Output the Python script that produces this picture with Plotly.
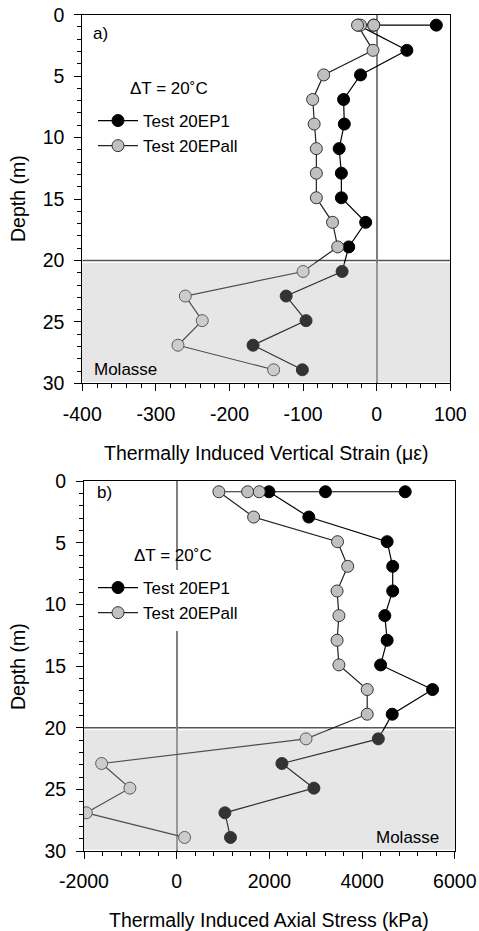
import plotly.graph_objects as go

# All placements below are given in window pixels (figure fills the window).
W, H = 479, 931

# ---------------- data ----------------
depth = [0.85, 0.85, 0.85, 2.9, 4.9, 6.9, 8.9, 10.9, 12.9, 14.9, 16.9, 18.9,
         20.9, 22.9, 24.9, 26.9, 28.9]
strain_ep1 = [81, -4, -25, 41, -22, -45, -44, -51, -48, -48, -15, -38,
              -47, -123, -96, -168, -101]
strain_epall = [-4, -22, -26, -5, -72, -87, -85, -82, -82, -82, -60, -53,
                -100, -260, -237, -270, -140]
stress_ep1 = [4930, 3210, 1990, 2850, 4540, 4660, 4660, 4490, 4540, 4400,
              5520, 4650, 4350, 2270, 2960, 1040, 1160]
stress_epall = [1780, 1530, 910, 1660, 3470, 3690, 3460, 3500, 3460, 3500,
                4110, 4110, 2790, -1620, -1010, -1950, 170]

series_names = ["Test 20EP1", "Test 20EPall"]
strain_ticks = [-400, -300, -200, -100, 0, 100]
stress_ticks = [-2000, 0, 2000, 4000, 6000]
depth_ticks = [0, 5, 10, 15, 20, 25, 30]
molasse_top, molasse_bottom = 20, 30

FONT = "Arial, Liberation Sans, sans-serif"


def px(x):
    return x / W


def py(y):
    return 1 - y / H


def labels(vals):
    return [str(v) for v in vals]   # plain hyphen minus, as in the reference


fig = go.Figure()

black_style = dict(mode="lines+markers",
                   line=dict(color="black", width=1.2),
                   marker=dict(size=12, color="black",
                               line=dict(color="black", width=1)))
grey_style = dict(mode="lines+markers",
                  line=dict(color="#222222", width=1.2),
                  marker=dict(size=12, color="#c0c0c0",
                              line=dict(color="#333333", width=1)))

fig.add_trace(go.Scatter(x=strain_ep1, y=depth, name=series_names[0],
                         xaxis="x", yaxis="y", legend="legend", **black_style))
fig.add_trace(go.Scatter(x=strain_epall, y=depth, name=series_names[1],
                         xaxis="x", yaxis="y", legend="legend", **grey_style))
fig.add_trace(go.Scatter(x=stress_ep1, y=depth, name=series_names[0],
                         xaxis="x2", yaxis="y2", legend="legend2", **black_style))
fig.add_trace(go.Scatter(x=stress_epall, y=depth, name=series_names[1],
                         xaxis="x2", yaxis="y2", legend="legend2", **grey_style))

axis_common = dict(showgrid=False, showline=True, mirror=True,
                   automargin=False,
                   linecolor="black", linewidth=1, ticks="outside",
                   ticklen=7, tickwidth=1, tickcolor="black",
                   tickfont=dict(family=FONT, size=19.5, color="black"),
                   ticklabelstandoff=6)

yaxis_common = dict(axis_common, range=[30, 0],
                    tickmode="array", tickvals=depth_ticks,
                    ticktext=labels(depth_ticks),
                    zeroline=False,
                    minor=dict(dtick=1, tick0=0, ticklen=4, ticks="outside",
                               tickcolor="black", tickwidth=1))

fig.update_layout(
    width=W, height=H,
    margin=dict(l=0, r=0, t=0, b=0, autoexpand=False),
    paper_bgcolor="white", plot_bgcolor="white",
    font=dict(family=FONT, color="black"),
    xaxis=dict(axis_common, domain=[px(82.3), px(450.3)], anchor="y",
               range=[-400, 100], tickmode="array", tickvals=strain_ticks,
               ticktext=labels(strain_ticks),
               zeroline=True, zerolinecolor="#808080", zerolinewidth=1.5,
               minor=dict(dtick=20, tick0=0, ticklen=4, ticks="outside",
                          tickcolor="black", tickwidth=1)),
    yaxis=dict(yaxis_common, domain=[py(383.3), py(14.7)], anchor="x"),
    xaxis2=dict(axis_common, domain=[px(84), px(454.8)], anchor="y2",
                range=[-2000, 6000], tickmode="array", tickvals=stress_ticks,
                ticktext=labels(stress_ticks),
                zeroline=True, zerolinecolor="#808080", zerolinewidth=1.5,
                minor=dict(dtick=400, tick0=0, ticklen=4, ticks="outside",
                           tickcolor="black", tickwidth=1)),
    yaxis2=dict(yaxis_common, domain=[py(851), py(481.3)], anchor="x2"),
    legend=dict(x=px(93), y=py(103), xanchor="left", yanchor="top",
                bgcolor="rgba(255,255,255,0)", borderwidth=0,
                font=dict(family=FONT, size=17, color="black"),
                tracegroupgap=0, itemwidth=40),
    legend2=dict(x=px(93), y=py(570), xanchor="left", yanchor="top",
                 bgcolor="white", borderwidth=0,
                 font=dict(family=FONT, size=17, color="black"),
                 tracegroupgap=0, itemwidth=40),
)

# Molasse shading, boundary line and slight overlay
for xr, yr in (("x", "y"), ("x2", "y2")):
    fig.add_shape(type="rect", xref=f"{xr} domain", yref=yr,
                  x0=0, x1=1, y0=molasse_top + 0.2, y1=molasse_bottom - 0.1,
                  fillcolor="#e0e0e0", line=dict(width=0), layer="below")
    fig.add_shape(type="line", xref=f"{xr} domain", yref=yr,
                  x0=0, x1=1, y0=molasse_top, y1=molasse_top,
                  line=dict(color="#555555", width=1.5), layer="below")
    fig.add_shape(type="rect", xref=f"{xr} domain", yref=yr,
                  x0=0.002, x1=0.998, y0=molasse_top + 0.2, y1=molasse_bottom - 0.1,
                  fillcolor="rgba(255,255,255,0.2)", line=dict(width=0),
                  layer="above")

ann_font = dict(family=FONT, size=17, color="black")
title_font = dict(family=FONT, size=19.5, color="black")
annotations = [
    dict(text="a)", x=px(91), y=py(34), xanchor="left"),
    dict(text="b)", x=px(95), y=py(493), xanchor="left"),
    dict(text="ΔT = 20˚C", x=px(128), y=py(88), xanchor="left"),
    dict(text="ΔT = 20˚C", x=px(132), y=py(555.5), xanchor="left"),
    dict(text="Molasse", x=px(92), y=py(370), xanchor="left"),
    dict(text="Molasse", x=px(441), y=py(837.5), xanchor="right"),
]
for a in annotations:
    fig.add_annotation(xref="paper", yref="paper", yanchor="middle",
                       showarrow=False, font=ann_font, **a)

titles = [
    dict(text="Depth (m)", x=px(18), y=py(199), textangle=-90),
    dict(text="Depth (m)", x=px(18), y=py(667), textangle=-90),
    dict(text="Thermally Induced Vertical Strain (με)", x=px(266), y=py(453)),
    dict(text="Thermally Induced Axial Stress (kPa)", x=px(269.4), y=py(920)),
]
for a in titles:
    fig.add_annotation(xref="paper", yref="paper", xanchor="center",
                       yanchor="middle", showarrow=False, font=title_font, **a)

# remove the browser's default body margin so the figure fills the window
fig.write_html("out.html",
               config={"displayModeBar": False},
               post_script="document.body.style.margin='0px';"
                           "document.body.style.overflow='hidden';")
